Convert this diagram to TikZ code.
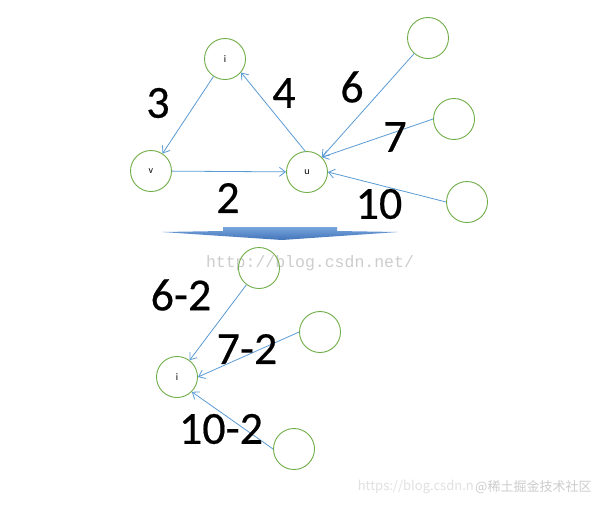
\documentclass[tikz,border=0pt]{standalone}
\usepackage{fontspec}
\setmainfont{Carlito}
\newfontfamily\labfont[FakeBold=0.4]{Carlito}
\newfontfamily\wmmono{Liberation Mono}
\newfontfamily\cjkf{Noto Sans CJK SC}
\usetikzlibrary{arrows.meta}
\definecolor{cgreen}{RGB}{112,173,71}
\definecolor{cblue}{RGB}{91,155,213}
\definecolor{wmgrey}{RGB}{205,205,205}
\definecolor{wmlight}{RGB}{225,225,225}
\definecolor{arrtop}{RGB}{120,165,220}
\definecolor{arrbot}{RGB}{65,115,185}
\begin{document}
\begin{tikzpicture}[x=1pt,y=-1pt,
  vert/.style={circle,draw=cgreen,line width=0.9pt,minimum size=41pt,inner sep=0pt,font=\fontsize{10}{10}\selectfont},
  edge/.style={draw=cblue,line width=0.8pt,-{Straight Barb[length=6pt,width=9pt]}},
  wt/.style={font=\labfont\fontsize{46}{46}\selectfont,inner sep=0pt},
  wmark/.style={inner sep=0pt}]
\useasboundingbox[fill=white] (0,0) rectangle (602,507);

% watermarks
\node[wmark,text=wmgrey,font=\wmmono\fontsize{16.5}{16.5}\selectfont] (wm1) at (310,263) {http://blog.csdn.net/};
\node[wmark,text=wmlight,anchor=east,font=\cjkf\fontsize{13}{13}\selectfont] (wm2) at (474,487) {https://blog.csdn.n};
\node[wmark,text=wmgrey,anchor=west,font=\cjkf\fontsize{13}{13}\selectfont] (wm3) at (475,487) {@稀土掘金技术社区};

% top graph
\node[vert] (i) at (225,59) {i};
\node[vert] (v) at (151,171) {v};
\node[vert] (u) at (307,172) {u};
\node[vert] (A) at (428,38) {};
\node[vert] (B) at (454,119) {};
\node[vert] (C) at (467,202) {};

\draw[edge] (i) -- (v);
\draw[edge] (v) -- (u);
\draw[edge] (u.95) -- (i.-40);
\draw[edge] (A) -- (u.45);
\draw[edge] (B.west) -- (u.45);
\draw[edge] (C.west) -- (u.east);

\node[wt] (l3) at (158,103) {3};
\node[wt] (l4) at (284,93) {4};
\node[wt] (l6) at (352,87) {6};
\node[wt] (l7) at (395,137) {7};
\node[wt] (l2) at (228,198) {2};
\node[wt] (l10) at (379,204) {10};

% big down arrow
\shade[top color=arrtop,bottom color=arrbot]
  (162,232) -- (223,231) -- (223,227) -- (337,227) -- (337,231) -- (398,232) -- (282,240) -- cycle;

% bottom graph
\node[vert] (i2) at (177,377) {i};
\node[vert] (D) at (259,268) {};
\node[vert] (E) at (320,332) {};
\node[vert] (F) at (294,449) {};

\draw[edge] (D) -- (i2);
\draw[edge] (E.west) -- (i2.east);
\draw[edge] (F.west) -- (i2.-45);

\node[wt] (l62) at (181,295) {6-2};
\node[wt] (l72) at (247,349) {7-2};
\node[wt] (l102) at (221,429) {10-2};
\end{tikzpicture}
\end{document}
